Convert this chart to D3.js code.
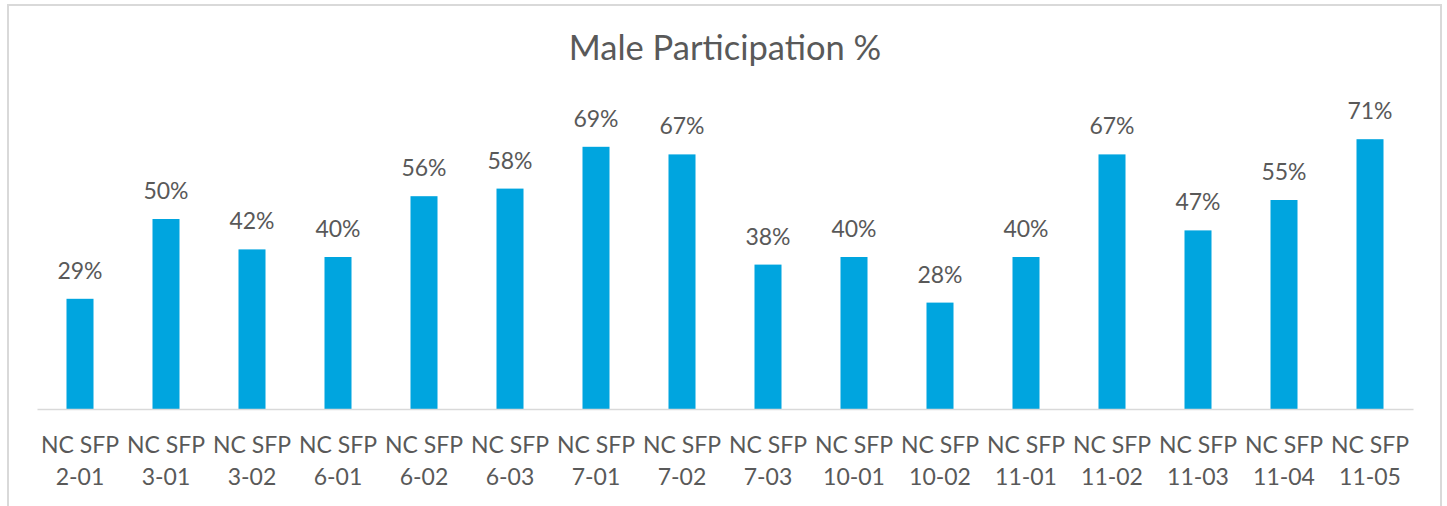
<!DOCTYPE html>
<html>
<head>
<meta charset="utf-8">
<script src="https://cdn.jsdelivr.net/npm/d3@7"></script>
<style>
  body { margin: 0; background: #fff; }
  text { font-family: Lato, "Open Sans", sans-serif; }
</style>
</head>
<body>
<div id="chart"></div>
<script>
var width = 1447;
var height = 506;

var categories = ["NC SFP 2-01", "NC SFP 3-01", "NC SFP 3-02", "NC SFP 6-01", "NC SFP 6-02", "NC SFP 6-03",
  "NC SFP 7-01", "NC SFP 7-02", "NC SFP 7-03", "NC SFP 10-01", "NC SFP 10-02", "NC SFP 11-01",
  "NC SFP 11-02", "NC SFP 11-03", "NC SFP 11-04", "NC SFP 11-05"];
var malePct = [0.29, 0.50, 0.42, 0.40, 0.56, 0.58, 0.69, 0.67, 0.38, 0.40, 0.28, 0.40, 0.67, 0.47, 0.55, 0.71];
var yDomain = [0, 0.8];

var plotLeft = 37;
var plotRight = 1413;
var plotTop = 105;
var baseline = 409;
var textColor = "#595959";

// svg container
var svg = d3
  .select("#chart")
  .append("svg")
  .attr("width", width)
  .attr("height", height);

// chart frame (bottom edge is cut off in the screenshot)
svg.append("rect")
  .attr("x", 8)
  .attr("y", 5)
  .attr("width", 1433)
  .attr("height", 530)
  .attr("fill", "none")
  .attr("stroke", "#d9d9d9")
  .attr("stroke-width", 2);

svg.append("text")
  .attr("x", 725)
  .attr("y", 60)
  .attr("text-anchor", "middle")
  .attr("font-size", 34.5)
  .attr("fill", textColor)
  .text("Male Participation %");

var xScale = d3
  .scaleBand()
  .domain(categories)
  .range([plotLeft, plotRight])
  .paddingInner(0.686)
  .paddingOuter(0.343);
var yScale = d3
  .scaleLinear()
  .domain(yDomain)
  .range([baseline, plotTop]);

var data = categories.map(function(c, i) { return { name: c, value: malePct[i] }; });

svg.selectAll("rect.bar")
  .data(data)
  .enter()
  .append("rect")
  .attr("class", "bar")
  .attr("x", function(d) { return xScale(d.name); })
  .attr("y", function(d) { return yScale(d.value); })
  .attr("width", xScale.bandwidth())
  .attr("height", function(d) { return yScale(0) - yScale(d.value); })
  .attr("fill", "#00a5df");

// data labels
svg.selectAll("text.dataLabel")
  .data(data)
  .enter()
  .append("text")
  .attr("class", "dataLabel")
  .attr("x", function(d) { return xScale(d.name) + xScale.bandwidth() / 2; })
  .attr("y", function(d) { return yScale(d.value) - 20; })
  .attr("text-anchor", "middle")
  .attr("font-size", 23)
  .attr("fill", textColor)
  .text(function(d) { return d3.format(".0%")(d.value); });

// category axis
var xAxis = svg.append("g")
  .attr("class", "xAxis")
  .attr("transform", "translate(0," + yScale(0) + ")")
  .call(d3.axisBottom(xScale).tickSize(0).tickSizeOuter(0));

xAxis.select(".domain").attr("stroke", "#d9d9d9").attr("stroke-width", 1.5);

xAxis.selectAll(".tick text")
  .attr("y", 0)
  .attr("dy", null)
  .attr("font-size", 23)
  .attr("font-family", "Lato, sans-serif")
  .attr("fill", textColor)
  .text(null)
  .each(function(d) {
    var cut = d.lastIndexOf(" ");
    var t = d3.select(this);
    t.append("tspan").attr("x", 0).attr("y", 44).text(d.slice(0, cut));
    t.append("tspan").attr("x", 0).attr("y", 76).text(d.slice(cut + 1));
  });
</script>
</body>
</html>
